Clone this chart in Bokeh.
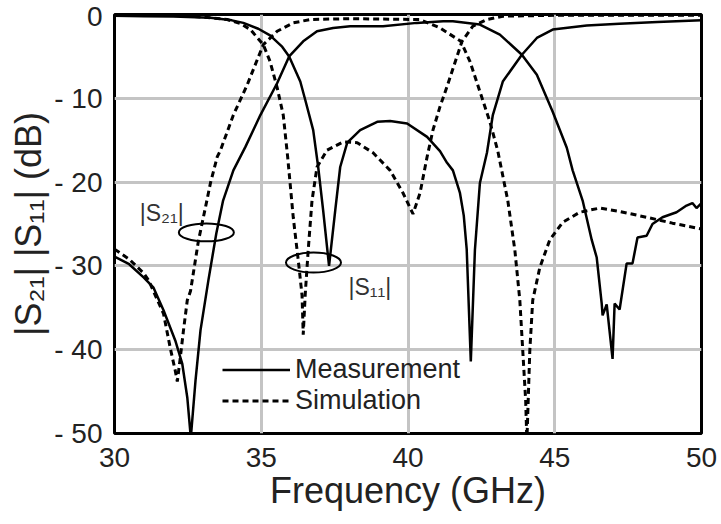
from bokeh.plotting import figure
from bokeh.models import FixedTicker, Label, Legend, LegendItem, Range1d
from bokeh.embed import file_html
from bokeh.resources import INLINE

# ---------------- data ----------------
s21_meas_f = [30.0, 30.5, 31.0, 31.33, 31.67, 32.07, 32.31, 32.48, 32.6, 32.76, 32.93, 33.2,
              33.47, 33.7, 34.05, 34.46, 34.97, 35.54, 35.95, 36.43, 36.9, 37.45, 38.03, 39.15,
              40.3, 41.2, 41.53, 42.45, 43.13, 43.88, 44.39, 44.93, 45.41, 45.61, 45.95, 46.26,
              46.43, 46.6, 46.63, 46.77, 46.97, 47.04, 47.21, 47.45, 47.65, 47.82, 48.13, 48.33,
              48.67, 49.15, 49.49, 49.69, 49.83, 50.0]
s21_meas_db = [-28.9, -29.8, -31.4, -32.6, -35.3, -38.9, -41.7, -45.7, -50.5, -43.7, -37.7, -31.7,
               -26.1, -22.2, -18.6, -15.8, -12.0, -8.2, -5.0, -3.2, -2.0, -1.6, -1.4, -1.4,
               -1.0, -0.8, -0.8, -1.2, -2.4, -4.8, -7.2, -11.6, -15.9, -18.6, -22.2, -26.9,
               -29.0, -34.5, -35.9, -34.6, -41.1, -34.5, -35.2, -29.7, -29.7, -26.6, -26.4, -25.0,
               -24.2, -23.6, -22.8, -22.5, -23.1, -22.5]

s11_meas_f = [30.0, 31.0, 32.0, 33.27, 34.0, 34.39, 34.9, 35.3, 35.7, 35.95, 36.33, 36.5, 36.77,
              36.94, 37.11, 37.31, 37.52, 37.69, 37.93, 38.37, 38.95, 39.39, 39.97, 40.65, 41.09,
              41.33, 41.53, 41.77, 41.9, 42.0, 42.14, 42.28, 42.45, 42.69, 42.89, 43.23, 43.88,
              44.39, 44.93, 46.09, 47.2, 48.5, 50.0]
s11_meas_db = [-0.15, -0.2, -0.25, -0.4, -0.7, -1.0, -1.7, -2.5, -3.8, -5.0, -8.0, -10.2, -13.8,
               -18.2, -23.4, -30.0, -23.4, -18.2, -15.3, -13.8, -12.8, -12.7, -13.0, -14.6, -16.3,
               -17.7, -18.6, -21.3, -24.0, -28.0, -41.4, -28.1, -20.1, -16.5, -12.0, -8.0, -4.8,
               -2.8, -1.8, -1.3, -1.1, -0.9, -0.7]

s21_sim_f = [30.0, 30.5, 31.0, 31.16, 31.67, 31.9, 32.07, 32.14, 32.24, 32.35, 32.48, 32.59,
             32.86, 33.1, 33.27, 33.5, 33.61, 34.05, 34.52, 35.07, 35.54, 36.09, 36.67, 38.0,
             40.4, 41.09, 41.8, 42.11, 42.45, 42.79, 43.06, 43.4, 43.64, 43.81, 43.91, 44.01,
             44.05, 44.15, 44.25, 44.49, 44.83, 45.27, 45.85, 46.53, 47.21, 48.13, 49.01, 50.0]
s21_sim_db = [-28.0, -29.2, -30.9, -31.7, -35.7, -39.8, -42.5, -43.8, -41.0, -37.7, -34.1, -33.0,
              -27.0, -23.0, -20.1, -17.0, -16.2, -12.0, -8.4, -3.6, -2.0, -1.0, -0.6, -0.5,
              -0.6, -1.6, -3.2, -5.6, -9.2, -12.8, -16.3, -22.2, -28.1, -34.1, -40.1, -46.1,
              -51.0, -40.1, -34.1, -30.2, -26.9, -24.8, -23.6, -23.1, -23.5, -24.2, -24.9, -25.6]

s11_sim_f = [30.0, 32.1, 33.0, 33.84, 34.3, 34.63, 35.07, 35.3, 35.54, 35.75, 35.9, 36.09, 36.26,
             36.39, 36.43, 36.5, 36.6, 36.73, 36.9, 37.24, 37.79, 38.27, 38.81, 39.39, 39.83,
             40.17, 40.41, 40.65, 40.85, 41.09, 41.33, 41.67, 41.84, 42.21, 42.69, 43.23, 45.0, 50.0]
s11_sim_db = [-0.1, -0.1, -0.3, -0.6, -1.1, -1.8, -3.6, -5.6, -8.7, -12.0, -17.0, -24.2, -29.3,
              -33.5, -38.2, -33.3, -28.1, -22.2, -18.2, -16.2, -15.2, -15.3, -16.5, -18.6, -21.3,
              -23.8, -21.3, -17.0, -13.8, -11.0, -8.6, -5.0, -3.2, -1.4, -0.6, -0.2, -0.1, -0.1]

x_ticks = [30, 35, 40, 45, 50]
y_ticks = [-50, -40, -30, -20, -10, 0]
y_tick_labels = {-50: "- 50", -40: "- 40", -30: "- 30", -20: "- 20", -10: "- 10", 0: "0"}

legend_labels = ["Measurement", "Simulation"]
annot_text = ["|S\u2082\u2081|", "|S\u2081\u2081|"]
annot_pos = [(30.86, -23.7), (37.97, -32.5)]
ellipse_pos = [(33.13, -26.0), (36.78, -29.6)]

# ---------------- figure ----------------
FONT = "Liberation Sans"
TXT = "#222222"

p = figure(width=721, height=524, x_range=Range1d(30, 50), y_range=Range1d(-50, 0),
           output_backend="svg", toolbar_location=None,
           min_border_left=114, min_border_right=20, min_border_top=14, min_border_bottom=91)
p.background_fill_color = "white"
p.border_fill_color = "white"
p.outline_line_color = "black"
p.outline_line_width = 3

for ax in (p.xaxis, p.yaxis):
    ax.axis_line_color = None
    ax.major_tick_line_color = None
    ax.minor_tick_line_color = None
    ax.major_label_text_font = FONT
    ax.major_label_text_font_size = "28px"
    ax.major_label_text_color = TXT
    ax.axis_label_text_font = FONT
    ax.axis_label_text_font_style = "normal"
    ax.axis_label_text_color = TXT

p.xaxis.ticker = FixedTicker(ticks=x_ticks)
p.yaxis.ticker = FixedTicker(ticks=y_ticks)
p.yaxis.major_label_overrides = y_tick_labels
p.xaxis.major_label_standoff = 8
p.yaxis.major_label_standoff = 6
p.xaxis.axis_label = "Frequency (GHz)"
p.xaxis.axis_label_text_font_size = "36px"
p.xaxis.axis_label_standoff = 0
p.yaxis.axis_label = "|S\u2082\u2081| |S\u2081\u2081| (dB)"
p.yaxis.axis_label_text_font_size = "36px"
p.yaxis.axis_label_standoff = 2

p.grid.grid_line_color = "#c4c4c4"
p.grid.grid_line_width = 3

r_s21m = p.line(s21_meas_f, s21_meas_db, line_color="black", line_width=2.5)
r_s11m = p.line(s11_meas_f, s11_meas_db, line_color="black", line_width=2.5)
r_s21s = p.line(s21_sim_f, s21_sim_db, line_color="black", line_width=3, line_dash="6 4")
r_s11s = p.line(s11_sim_f, s11_sim_db, line_color="black", line_width=3, line_dash="6 4")

for (ex, ey), h in zip(ellipse_pos, [18, 20]):
    p.ellipse(x=ex, y=ey, width=55, height=h, width_units="screen", height_units="screen",
              fill_color=None, line_color="black", line_width=2)

for txt, (tx, ty) in zip(annot_text, annot_pos):
    p.add_layout(Label(x=tx, y=ty, text=txt, text_font=FONT, text_font_size="23px",
                       text_color="#333333", text_baseline="alphabetic"))

legend = Legend(items=[LegendItem(label=legend_labels[0], renderers=[r_s21m]),
                       LegendItem(label=legend_labels[1], renderers=[r_s21s])],
                location=(108, 17), glyph_width=68, glyph_height=29, label_height=29,
                label_standoff=5, spacing=0, padding=0, margin=0,
                border_line_alpha=0, background_fill_alpha=0,
                label_text_font=FONT, label_text_font_size="27px", label_text_color=TXT)
p.add_layout(legend)

open("out.html", "w").write(file_html(p, INLINE))
